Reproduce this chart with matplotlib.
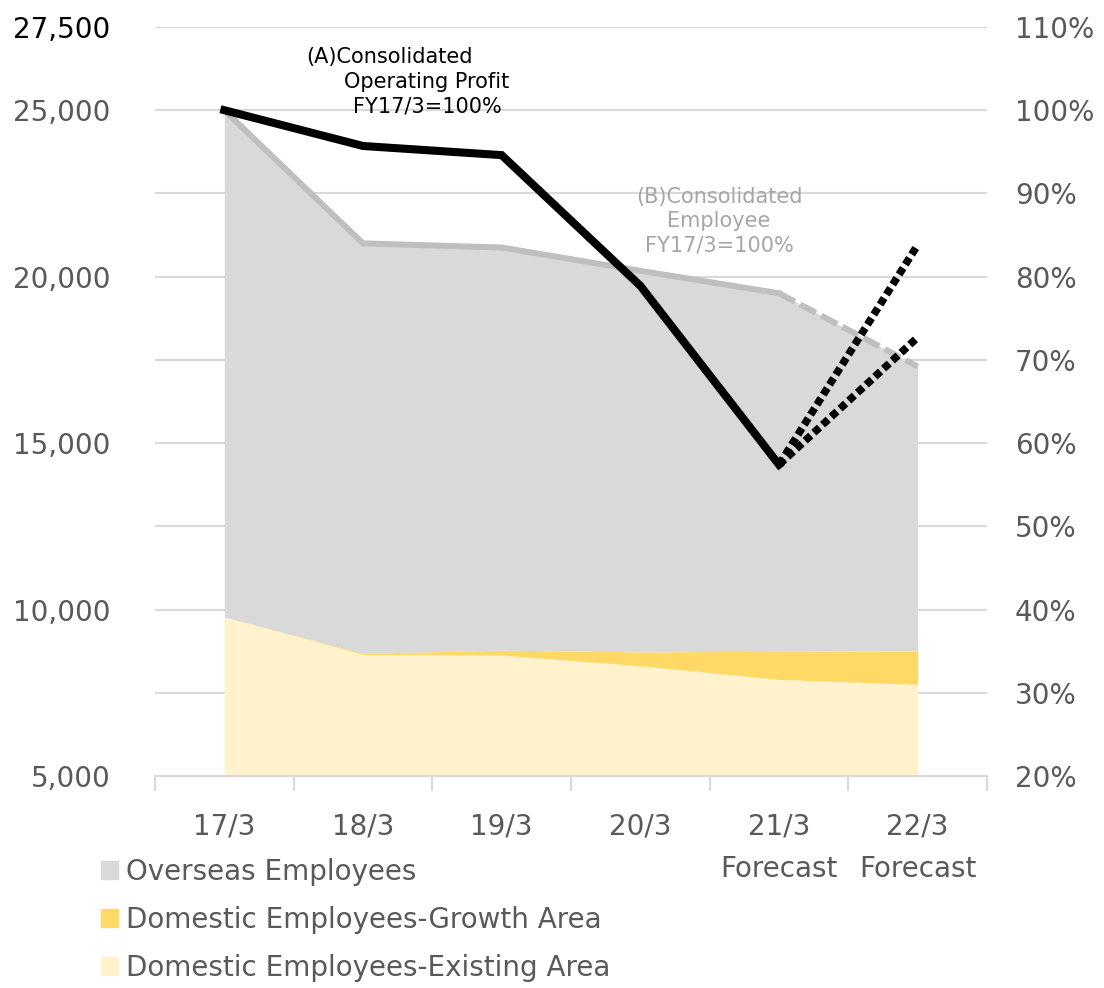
import matplotlib
matplotlib.use("Agg")
import matplotlib.pyplot as plt
from matplotlib.patches import Patch

plt.rcParams['font.family'] = ['DejaVu Sans']

# data
years = ["17/3", "18/3", "19/3", "20/3", "21/3\nForecast", "22/3\nForecast"]
existing = [9780, 8650, 8630, 8310, 7900, 7750]
growth = [0, 35, 150, 420, 845, 1005]
overseas = [15220, 12315, 12105, 11435, 10760, 8555]
employee_pct = [100, 84.0, 83.5, 80.7, 78.0, 69.2]
profit_pct = [100, 95.7, 94.6, 78.9, 57.4]
profit_fc_high = 83.8
profit_fc_low = 72.7

c_over = "#d9d9d9"
c_growth = "#ffd966"
c_exist = "#fff2cc"
c_text = "#595959"

x = list(range(len(years)))
lvl1 = existing
lvl2 = [a + b for a, b in zip(existing, growth)]
lvl3 = [a + b for a, b in zip(lvl2, overseas)]

fig = plt.figure(figsize=(11.04, 9.88), dpi=100)
ax = fig.add_axes([0.1404, 0.2146, 0.894 - 0.1404, 0.9727 - 0.2146])

ax.fill_between(x, 0, lvl1, color=c_exist, lw=0, zorder=2)
ax.fill_between(x, lvl1, lvl2, color=c_growth, lw=0, zorder=2)
ax.fill_between(x, lvl2, lvl3, color=c_over, lw=0, zorder=2)

ax.set_xlim(-0.5, 5.5)
ax.set_ylim(5000, 27500)
yt = list(range(5000, 27501, 2500))
ax.set_yticks(yt)
ax.set_yticklabels([f"{v:,}" if v % 5000 == 0 or v == 27500 else "" for v in yt])
ax.yaxis.grid(True, color="#d9d9d9", lw=1.5, zorder=0)
ax.set_axisbelow(True)
ax.tick_params(axis="y", length=0, labelsize=20, labelcolor=c_text, pad=32)
ax.get_yticklabels()[-1].set_color("black")

ax.set_xticks(x)
ax.set_xticklabels(years, linespacing=1.7, va="top")
ax.set_xticks([i - 0.5 for i in range(len(years) + 1)], minor=True)
ax.tick_params(axis="x", which="major", length=0, labelsize=20, labelcolor=c_text, pad=26)
ax.tick_params(axis="x", which="minor", length=11, width=1.5, color="#d9d9d9")
for s in ["left", "right", "top"]:
    ax.spines[s].set_visible(False)
ax.spines["bottom"].set_color("#d9d9d9")
ax.spines["bottom"].set_linewidth(1.5)

# right axis: percentages (FY17/3 = 100%)
ax2 = ax.twinx()
ax2.set_ylim(20, 110)
ax2.set_yticks(range(20, 111, 10))
ax2.set_yticklabels([f"{v}%" for v in range(20, 111, 10)])
ax2.tick_params(axis="y", length=0, labelsize=20, labelcolor=c_text, pad=20)
for s in ax2.spines.values():
    s.set_visible(False)

# (B) employee line
ax2.plot(x[:5], employee_pct[:5], color="#bfbfbf", lw=4.3, solid_joinstyle="miter", zorder=3)
ax2.plot(x[4:], employee_pct[4:], color="#bfbfbf", lw=4.3, dashes=(3, 1), dash_capstyle="butt", zorder=3)

# (A) operating profit line
ax2.plot(x[:5], profit_pct, color="black", lw=5.8, solid_joinstyle="miter", zorder=4)
ax2.plot([x[4], x[5]], [profit_pct[4], profit_fc_high], color="black", lw=5.5,
         dashes=(1, 0.55), dash_capstyle="butt", zorder=4)
ax2.plot([x[4], x[5]], [profit_pct[4], profit_fc_low], color="black", lw=5.5,
         dashes=(1, 0.55), dash_capstyle="butt", zorder=4)

fig.text(390 / 1104, 1 - 57 / 988, "(A)Consolidated", ha="center", va="center", fontsize=15, color="black")
fig.text(427 / 1104, 1 - 82 / 988, "Operating Profit", ha="center", va="center", fontsize=15, color="black")
fig.text(427 / 1104, 1 - 106 / 988, "FY17/3=100%", ha="center", va="center", fontsize=15, color="black")
fig.text(719 / 1104, 1 - 221 / 988, "(B)Consolidated\nEmployee\nFY17/3=100%", ha="center", va="center",
         fontsize=15, color="#a6a6a6", linespacing=1.28)

handles = [Patch(color=c_over, label="Overseas Employees"),
           Patch(color=c_growth, label="Domestic Employees-Growth Area"),
           Patch(color=c_exist, label="Domestic Employees-Existing Area")]
leg = fig.legend(handles=handles, loc="upper left", bbox_to_anchor=(87 / 1104, 1 - 844 / 988),
                 frameon=False, fontsize=20, handlelength=0.6, handleheight=0.6,
                 handletextpad=0.3, labelspacing=0.72, labelcolor=c_text, borderpad=0)

fig.savefig("out.png", dpi=100)
